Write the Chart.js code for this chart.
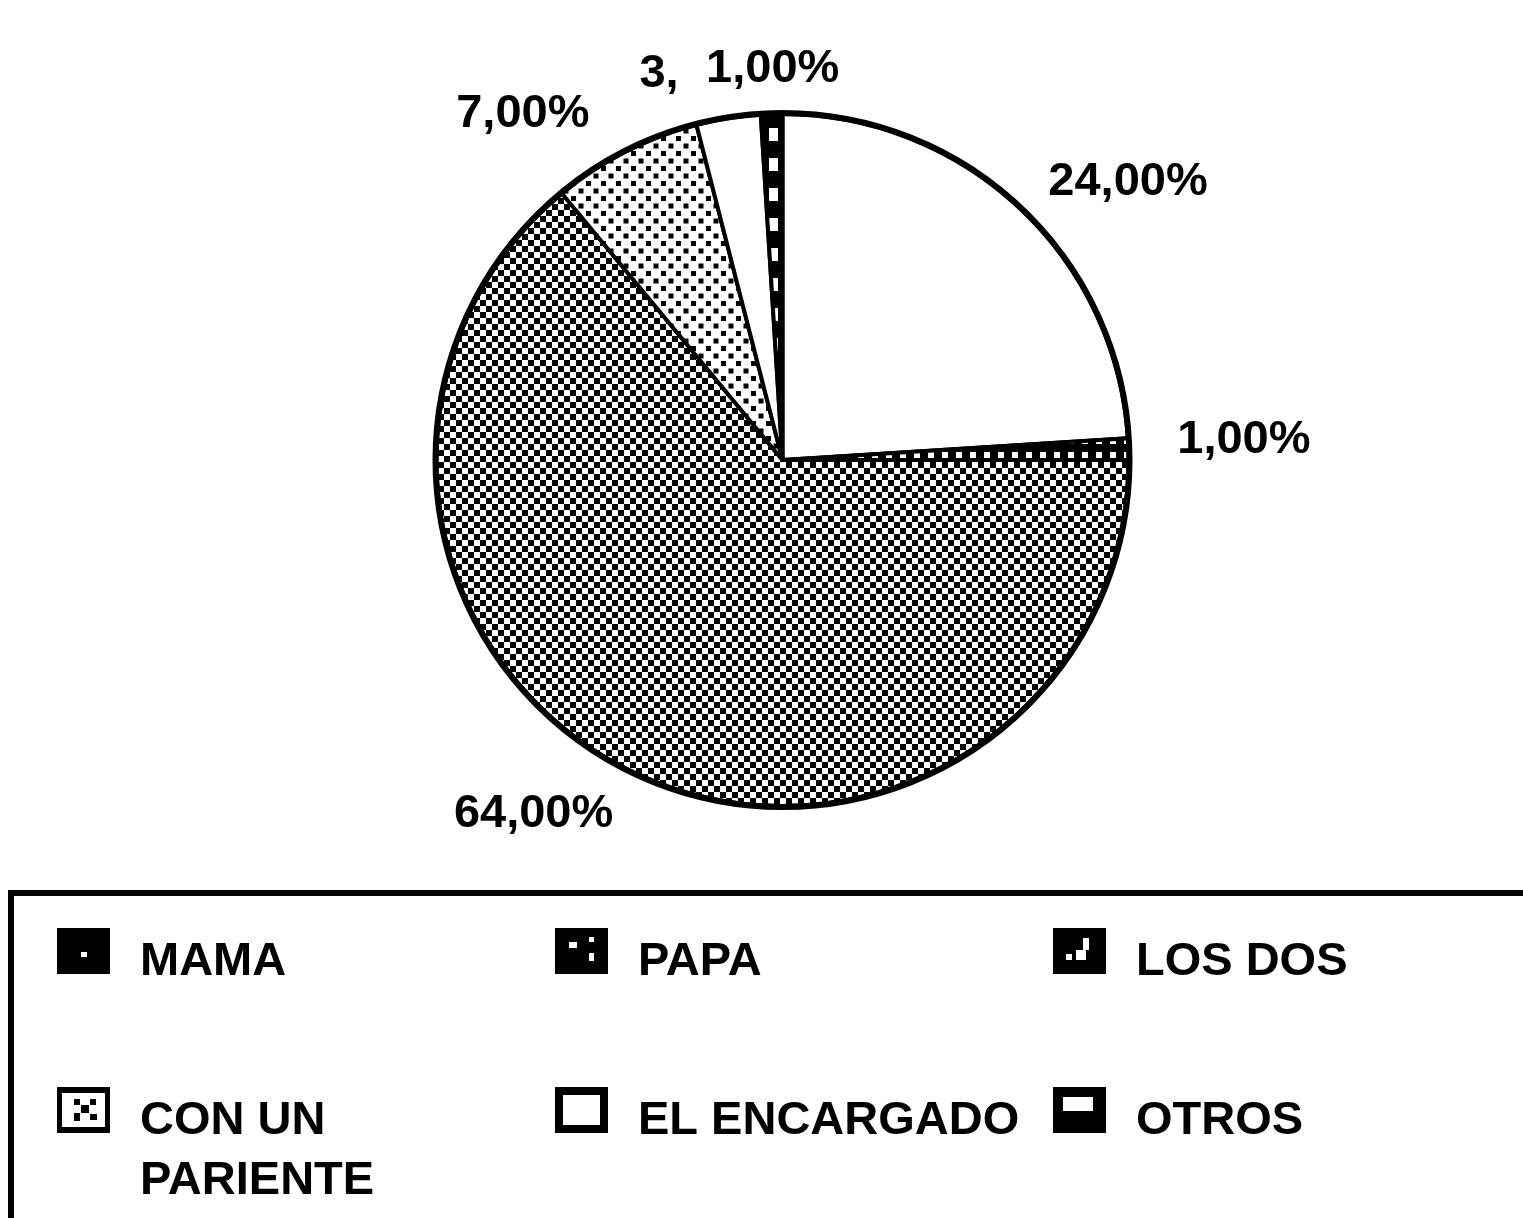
<!DOCTYPE html>
<html><head><meta charset="utf-8">
<script src="https://cdn.jsdelivr.net/npm/chart.js@4.4.1/dist/chart.umd.min.js"></script>
<style>html,body{margin:0;padding:0;background:#fff;overflow:hidden}</style>
</head><body>
<canvas id="c" width="1523" height="1218"></canvas>
<script>
// ---- data ----
const categories = ['MAMA', 'PAPA', 'LOS DOS', 'CON UN PARIENTE', 'EL ENCARGADO', 'OTROS'];
const values = [24, 1, 64, 7, 3, 1];

// ---- styles ----
const FONT = 'bold 47px "Liberation Sans", Arial, sans-serif';
const labelNudge = [[37, 7], [24, -8], [-57, 0], [-61, 2], [-8, 0], [4, 0]];
const labelMask = [false, false, false, false, false, true];

const cv = document.getElementById('c');
const mainCtx = cv.getContext('2d');
function pattern(w, h, draw) {
  const c = document.createElement('canvas'); c.width = w; c.height = h;
  const x = c.getContext('2d'); draw(x, w, h);
  return mainCtx.createPattern(c, 'repeat');
}
const pChecker = pattern(12, 12, (x) => {
  x.fillStyle = '#fff'; x.fillRect(0, 0, 12, 12);
  x.fillStyle = '#000'; x.fillRect(0, 0, 6, 6); x.fillRect(6, 6, 6, 6);
});
const pDots = pattern(15, 15, (x) => {
  x.fillStyle = '#fff'; x.fillRect(0, 0, 15, 15);
  x.fillStyle = '#000'; x.fillRect(1, 1, 5, 5); x.fillRect(8.5, 8.5, 5, 5);
});
const pBlackDots = pattern(14, 14, (x) => {
  x.fillStyle = '#000'; x.fillRect(0, 0, 14, 14);
  x.fillStyle = '#fff'; x.fillRect(4, 4, 6, 6);
});
const pBlackRects = pattern(24, 30, (x) => {
  x.fillStyle = '#000'; x.fillRect(0, 0, 24, 30);
  x.fillStyle = '#fff'; x.fillRect(1, 8, 9, 13);
});
const sliceFill = ['#ffffff', pBlackDots, pChecker, pDots, '#ffffff', pBlackRects];

function fmt(v) { return v.toFixed(2).replace('.', ',') + '%'; }

function drawLegendBox(ctx, i, x, y, w, h) {
  ctx.save();
  if (i === 4) {
    ctx.fillStyle = '#fff'; ctx.fillRect(x, y, w, h);
    ctx.lineWidth = 8; ctx.strokeStyle = '#000'; ctx.strokeRect(x + 4, y + 4, w - 8, h - 8);
  } else if (i === 3) {
    ctx.fillStyle = '#000'; ctx.fillRect(x, y, w, h);
    ctx.fillStyle = '#fff'; ctx.fillRect(x + 5, y + 6, w - 10, h - 12);
    ctx.fillStyle = '#000';
    ctx.fillRect(x + 17, y + 12, 6, 6); ctx.fillRect(x + 24, y + 18, 8, 8);
    ctx.fillRect(x + 33, y + 12, 6, 6); ctx.fillRect(x + 17, y + 26, 6, 8); ctx.fillRect(x + 33, y + 27, 7, 6);
  } else {
    ctx.fillStyle = '#000'; ctx.fillRect(x, y, w, h);
    ctx.fillStyle = '#fff';
    if (i === 0) { ctx.fillRect(x + 24, y + 24, 6, 5); }
    if (i === 1) { ctx.fillRect(x + 14, y + 14, 8, 6); ctx.fillRect(x + 34, y + 9, 5, 5); ctx.fillRect(x + 34, y + 25, 5, 8); }
    if (i === 2) { ctx.fillRect(x + 30, y + 10, 6, 12); ctx.fillRect(x + 23, y + 22, 10, 10); ctx.fillRect(x + 13, y + 26, 6, 6); }
    if (i === 5) { ctx.fillRect(x + 10, y + 10, 30, 14); }
  }
  ctx.restore();
}

const decor = {
  id: 'decor',
  afterDatasetsDraw(chart) {
    const ctx = chart.ctx;
    const meta = chart.getDatasetMeta(0);
    const a0 = meta.data[0].getProps(['x', 'y', 'outerRadius'], true);
    const cx0 = a0.x, cy0 = a0.y, R = a0.outerRadius;
    ctx.save();
    ctx.beginPath(); ctx.arc(cx0, cy0, R + 1, 0, Math.PI * 2);
    ctx.lineWidth = 6; ctx.strokeStyle = '#000'; ctx.stroke();
    ctx.font = FONT; ctx.textAlign = 'center'; ctx.textBaseline = 'middle';
    meta.data.forEach((el, i) => {
      const p = el.getProps(['startAngle', 'endAngle'], true);
      const mid = (p.startAngle + p.endAngle) / 2;
      const ar = R + 25;
      const ax = cx0 + Math.cos(mid) * ar, ay = cy0 + Math.sin(mid) * ar;
      const txt = fmt(values[i]);
      const w = ctx.measureText(txt).width, h = 40;
      const tx = ax + Math.cos(mid) * w / 2 + labelNudge[i][0];
      const ty = ay + Math.sin(mid) * h / 2 + labelNudge[i][1];
      if (labelMask[i]) { ctx.fillStyle = '#fff'; ctx.fillRect(tx - w / 2 - 28, ty - 22, w + 30, 42); }
      ctx.fillStyle = '#000';
      ctx.fillText(txt, tx, ty);
    });
    ctx.restore();
  },
  afterDraw(chart) {
    const ctx = chart.ctx;
    ctx.save();
    // legend frame
    ctx.strokeStyle = '#000'; ctx.lineWidth = 6;
    ctx.beginPath(); ctx.moveTo(11, 1218); ctx.lineTo(11, 893); ctx.lineTo(1523, 893); ctx.stroke();
    ctx.font = FONT; ctx.fillStyle = '#000'; ctx.textAlign = 'left'; ctx.textBaseline = 'alphabetic';
    categories.forEach((name, i) => {
      const col = i % 3, row = Math.floor(i / 3);
      const bx = 57 + col * 498, by = 928 + row * 159;
      drawLegendBox(ctx, i, bx, by, 53, 46);
      const words = name.split(' ');
      const lines = []; let cur = '';
      words.forEach(wd => {
        const t = cur ? cur + ' ' + wd : wd;
        if (ctx.measureText(t).width > 400 && cur) { lines.push(cur); cur = wd; } else cur = t;
      });
      lines.push(cur);
      ctx.fillStyle = '#000';
      lines.forEach((ln, k) => ctx.fillText(ln, bx + 83, by + 47 + k * 60));
    });
    ctx.restore();
  }
};

new Chart(cv, {
  type: 'pie',
  data: {
    labels: categories,
    datasets: [{
      data: values,
      backgroundColor: sliceFill,
      borderColor: '#000',
      borderWidth: 4,
      hoverOffset: 0
    }]
  },
  options: {
    responsive: false,
    animation: false,
    radius: 346,
    layout: { padding: { top: 112, bottom: 410, left: 435, right: 393 } },
    plugins: { legend: { display: false }, tooltip: { enabled: false } },
    events: []
  },
  plugins: [decor]
});
</script>
</body></html>
